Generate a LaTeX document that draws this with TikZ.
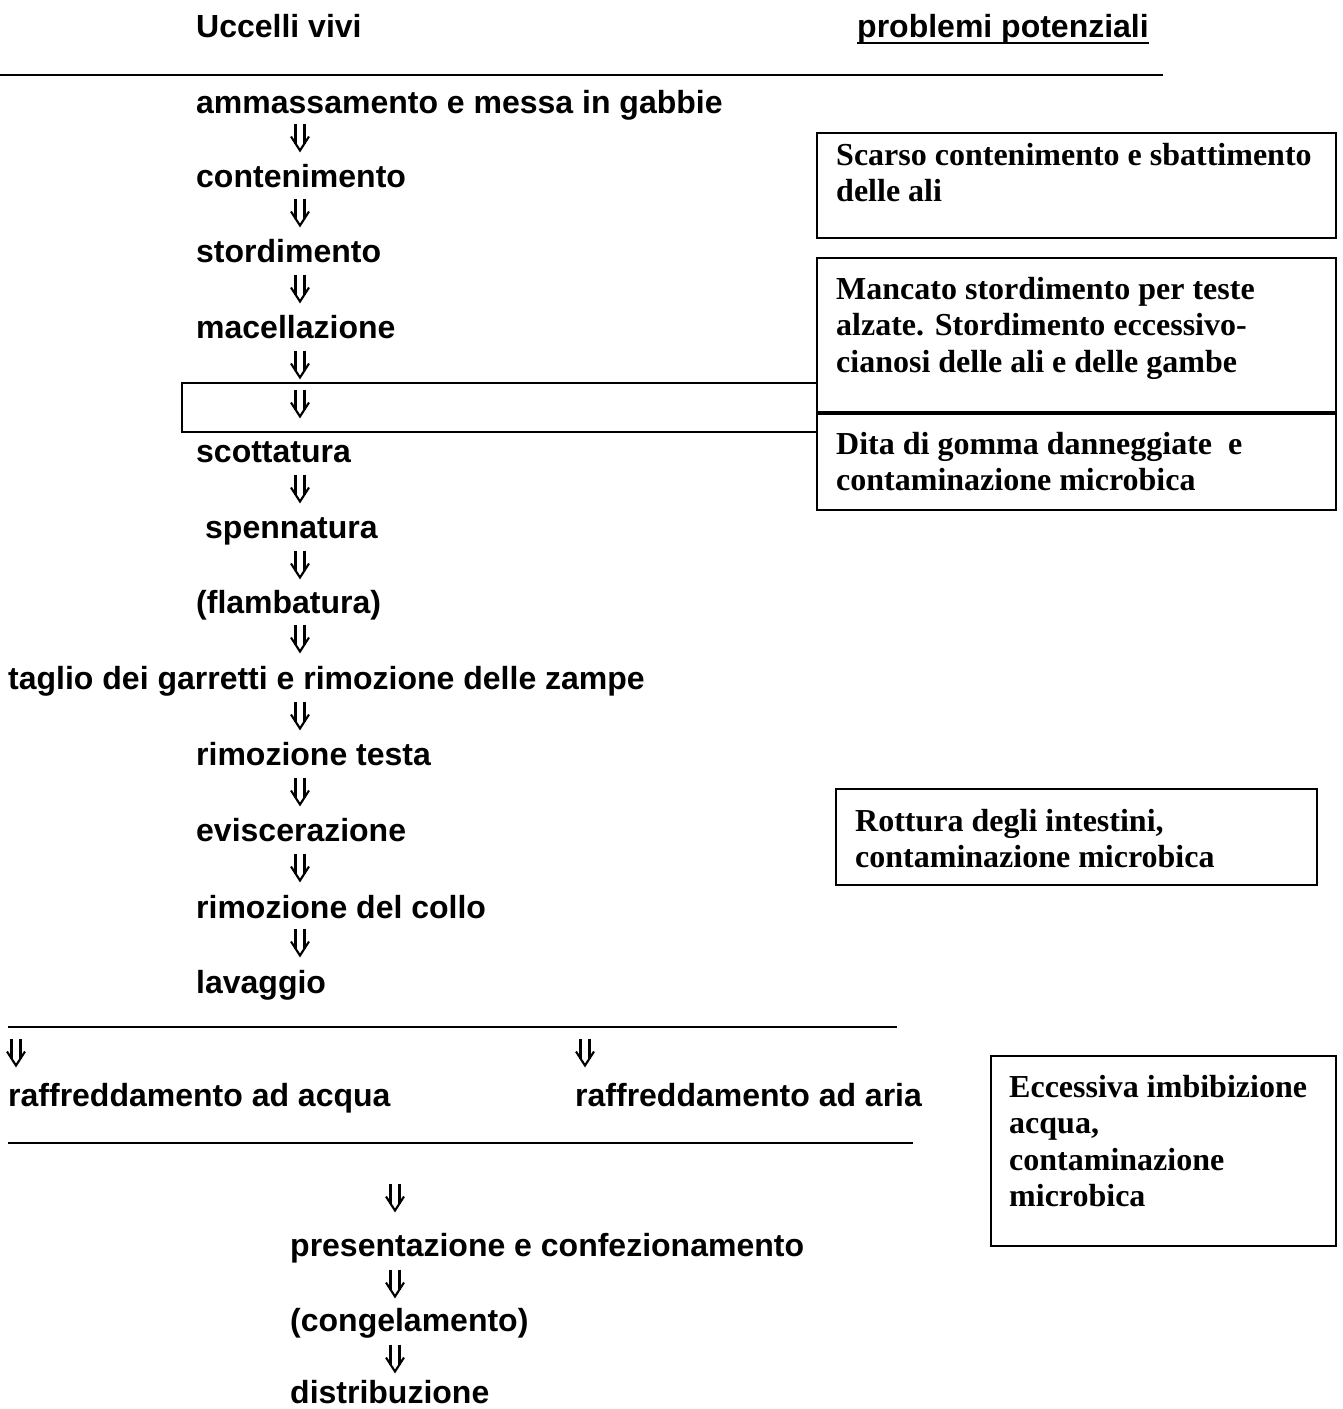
\documentclass[tikz,border=0pt]{standalone}
\usepackage{fontspec}
\setmainfont{Liberation Serif}
\newfontfamily\arialf{Liberation Sans}
\begin{document}
\begin{tikzpicture}[x=1pt,y=-1pt,
  flow/.style={font=\arialf\bfseries\fontsize{32}{37}\selectfont, anchor=base west, inner sep=0pt},
  prob/.style={font=\bfseries\fontsize{32}{36.5}\selectfont, anchor=base west, inner sep=0pt},
  pbox/.style={draw, line width=1.8pt},
  rulel/.style={line width=1.5pt},
  darr/.pic={
    \draw[line width=2.1pt] (-4.5,-25) -- (-4.5,-5) (4.5,-25) -- (4.5,-5);
    \draw[line width=2.1pt, line join=miter] (-9,-12) -- (0,2) -- (9,-12);
  }
]
\useasboundingbox (0,0) rectangle (1343,1409);

% headers
\node[flow] (h1) at (196,37) {Uccelli vivi};
\node[flow] (h2) at (857,37) {problemi potenziali};
\draw[line width=2.4pt] ([yshift=-6pt]h2.base west) -- ([yshift=-6pt]h2.base east);
\coordinate (r1a) at (0,75); \coordinate (r1b) at (1163,75);
\draw[rulel] (r1a) -- (r1b);

% flow box around the arrow
\node[pbox, anchor=north west, minimum width=635pt, minimum height=49pt, inner sep=0pt] (fb) at (181,382) {};

% right boxes
\node[pbox, anchor=north west, minimum width=519pt, minimum height=105pt, inner sep=0pt] (b1) at (816,132) {};
\node[pbox, anchor=north west, minimum width=519pt, minimum height=154pt, inner sep=0pt] (b2) at (816,257) {};
\node[pbox, anchor=north west, minimum width=519pt, minimum height=96pt, inner sep=0pt] (b3) at (816,413) {};
\node[pbox, anchor=north west, minimum width=481pt, minimum height=96pt, inner sep=0pt] (b4) at (835,788) {};
\node[pbox, anchor=north west, minimum width=345pt, minimum height=190pt, inner sep=0pt] (b5) at (990,1055) {};

\node[prob] (t1) at (836,165) {\parbox[t]{495pt}{\raggedright Scarso contenimento e sbattimento\\delle ali}};
\node[prob] (t2) at (836,299) {\parbox[t]{495pt}{\raggedright Mancato stordimento per teste\\alzate. Stordimento eccessivo-\\cianosi delle ali e delle gambe}};
\node[prob] (t3) at (836,454) {\parbox[t]{495pt}{\raggedright Dita di gomma danneggiate\ \ e\\contaminazione microbica}};
\node[prob] (t4) at (855,831) {\parbox[t]{455pt}{\raggedright Rottura degli intestini,\\contaminazione microbica}};
\node[prob] (t5) at (1009,1097) {\parbox[t]{320pt}{\raggedright Eccessiva imbibizione\\acqua,\\contaminazione\\microbica}};

% flow steps
\node[flow] (s1) at (196,113) {ammassamento e messa in gabbie};
\node[flow] (s2) at (196,187) {contenimento};
\node[flow] (s3) at (196,262) {stordimento};
\node[flow] (s4) at (196,338) {macellazione};
\node[flow] (s5) at (196,462) {scottatura};
\node[flow] (s6) at (205,538) {spennatura};
\node[flow] (s7) at (196,613) {(flambatura)};
\node[flow] (s8) at (8,689) {taglio dei garretti e rimozione delle zampe};
\node[flow] (s9) at (196,765) {rimozione testa};
\node[flow] (s10) at (196,841) {eviscerazione};
\node[flow] (s11) at (196,918) {rimozione del collo};
\node[flow] (s12) at (196,993) {lavaggio};
\node[flow] (s13a) at (8,1106) {raffreddamento ad acqua};
\node[flow] (s13b) at (575,1106) {raffreddamento ad aria};
\node[flow] (s14) at (290,1256) {presentazione e confezionamento};
\node[flow] (s15) at (290,1331) {(congelamento)};
\node[flow] (s16) at (290,1403) {distribuzione};

% arrows
\foreach \b in {148.5,223.5,299.5,375.5,414.5,499.5,575.5,649.5,726.5,802.5,878.5,953.5}
  \pic at (300,\b) {darr};
\pic at (16,1063.5) {darr};
\pic at (585,1063.5) {darr};
\pic at (395,1208.5) {darr};
\pic at (395,1294.5) {darr};
\pic at (395,1369.5) {darr};

% separator rules
\coordinate (r2a) at (8,1027); \coordinate (r2b) at (897,1027);
\draw[rulel] (r2a) -- (r2b);
\coordinate (r3a) at (8,1143); \coordinate (r3b) at (913,1143);
\draw[rulel] (r3a) -- (r3b);
\end{tikzpicture}
\end{document}
